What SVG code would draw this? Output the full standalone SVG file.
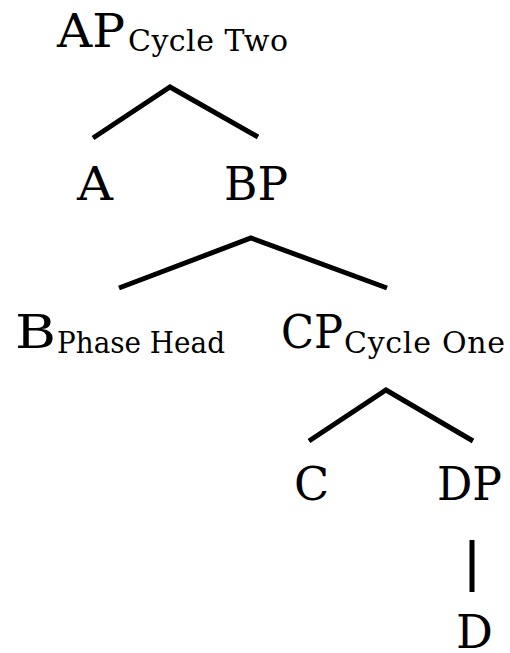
<svg xmlns="http://www.w3.org/2000/svg" width="510" height="653" viewBox="0 0 510 653">
  <style>
    text { font-family: 'DejaVu Serif', serif; font-size: 46px; fill: #000; }
    text.sub { font-size: 30px; }
    .edge { stroke: #000; stroke-width: 5; fill: none; }
  </style>
  <rect width="510" height="653" fill="#fff"/>

  <!-- tree branches -->
  <g id="connectors">
    <polyline class="edge" points="93,138 170,87 258,137"/>
    <polyline class="edge" points="119,288 251,238 387,288"/>
    <polyline class="edge" points="309,441 386,390 473,441"/>
    <line class="edge" x1="472" y1="540" x2="472" y2="592"/>
  </g>

  <g id="node-AP">
    <text x="57" y="47" textLength="68" lengthAdjust="spacingAndGlyphs">AP</text>
    <text class="sub" x="128" y="51" textLength="160">Cycle Two</text>
  </g>
  <g id="node-A">
    <text x="77" y="200" textLength="36" lengthAdjust="spacingAndGlyphs">A</text>
  </g>
  <g id="node-BP">
    <text x="224" y="200" textLength="64" lengthAdjust="spacingAndGlyphs">BP</text>
  </g>
  <g id="node-B">
    <text x="15" y="348" textLength="41" lengthAdjust="spacingAndGlyphs">B</text>
    <text class="sub" x="57" y="353" textLength="168" lengthAdjust="spacingAndGlyphs">Phase Head</text>
  </g>
  <g id="node-CP">
    <text x="281" y="348" textLength="62" lengthAdjust="spacingAndGlyphs">CP</text>
    <text class="sub" x="344" y="353" textLength="161">Cycle One</text>
  </g>
  <g id="node-C">
    <text x="294" y="500">C</text>
  </g>
  <g id="node-DP">
    <text x="437" y="500" textLength="65" lengthAdjust="spacingAndGlyphs">DP</text>
  </g>
  <g id="node-D">
    <text x="456" y="648">D</text>
  </g>
</svg>
